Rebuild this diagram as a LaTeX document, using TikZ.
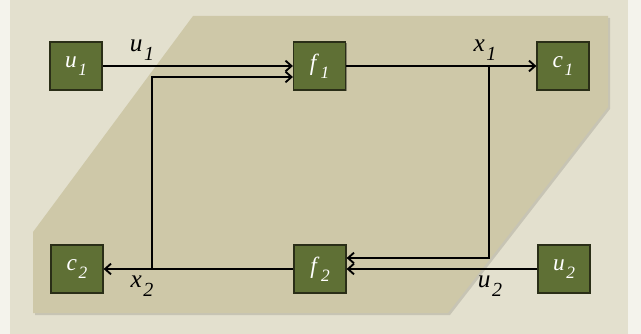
\documentclass[tikz,border=0pt]{standalone}
\usepackage{fontspec}
\setmainfont{Liberation Serif}
\usetikzlibrary{arrows.meta,shadows}
\definecolor{pagebg}{HTML}{F4F3EC}
\definecolor{lightbg}{HTML}{E3E0CE}
\definecolor{regionbg}{HTML}{CEC8A8}
\definecolor{boxgreen}{HTML}{5F7035}
\definecolor{boxedge}{HTML}{2A2E17}
\newcommand{\vsub}[3]{\textit{#1}\kern1.2pt\raisebox{-0.75ex}{\fontsize{#3}{#3}\selectfont\textit{#2}}}
\tikzset{
  blockbox/.style={draw=boxedge, fill=boxgreen, line width=0.9pt, text=white,
    minimum width=39pt, minimum height=36pt, inner sep=0pt,
    font=\fontsize{17.5}{17.5}\selectfont,
    drop shadow={shadow xshift=1pt, shadow yshift=-1pt, opacity=0.35, fill=black}},
  sig/.style={draw=black, line width=1.5pt, -{Straight Barb[length=4.5pt,width=8pt,line width=1.4pt]}},
  siglabel/.style={inner sep=0pt, font=\fontsize{19}{19}\selectfont},
}
\begin{document}
\begin{tikzpicture}[x=0.75pt,y=-0.75pt]
\useasboundingbox (0,0) rectangle (641,334);
\fill[pagebg] (0,0) rectangle (641,334);
\fill[lightbg] (10,0) rectangle (628,334);
% shadow of region
\begin{scope}[shift={(2,2)}]
  \clip (33,16) rectangle (608,313);
  \fill[black,opacity=0.12] (193,16) -- (800,16) -- (608,107) -- (448,313) -- (-100,313) -- (33,232) -- cycle;
\end{scope}
\begin{scope}
  \clip (33,16) rectangle (608,313);
  \fill[regionbg] (193,16) -- (720,16) -- (608,107) -- (448,313) -- (-100,313) -- (33,232) -- cycle;
\end{scope}
% blocks
\node[blockbox] (u1) at (76,66) {\vsub{u}{1}{13}};
\node[blockbox] (f1) at (319.5,66) {\vsub{f}{1}{13}};
\node[blockbox] (c1) at (563,66) {\vsub{c}{1}{13}};
\node[blockbox] (c2) at (77,269) {\vsub{c}{2}{13}};
\node[blockbox] (f2) at (320,269) {\vsub{f}{2}{13}};
\node[blockbox] (u2) at (564,269) {\vsub{u}{2}{13}};
% branch points
\coordinate (bx1) at (489,66);
\coordinate (bx1d) at (489,258);
\coordinate (bx2) at (152,269);
\coordinate (bx2u) at (152,77);
% connectors
\draw[sig] (u1) -- (f1);
\draw[sig] (f1) -- (c1);
\draw[sig] (u2) -- (f2);
\draw[sig] (f2) -- (c2);
\draw[sig] (bx1) -- (bx1d) -- (bx1d -| f2.east);
\draw[sig] (bx2) -- (bx2u) -- (bx2u -| f1.west);
% labels
\node[siglabel] (lu1) at (142,50) {\vsub{u}{1}{15}};
\node[siglabel] (lx1) at (485,50) {\vsub{x}{1}{15}};
\node[siglabel] (lx2) at (142,286) {\vsub{x}{2}{15}};
\node[siglabel] (lu2) at (490,286) {\vsub{u}{2}{15}};
\end{tikzpicture}
\end{document}
